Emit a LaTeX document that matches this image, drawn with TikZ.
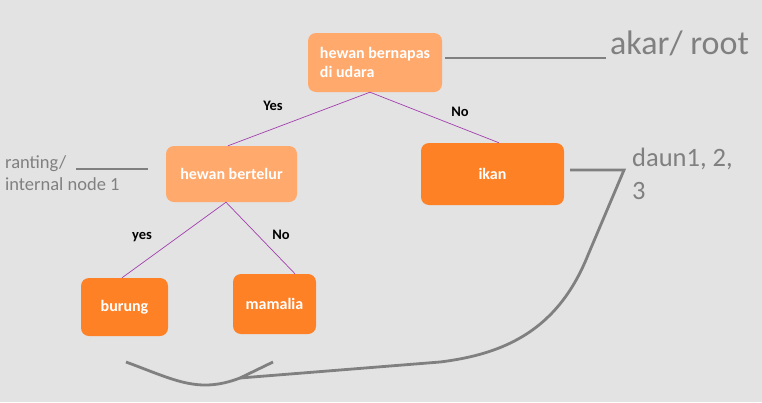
\documentclass[tikz,border=0pt]{standalone}
\usepackage{fontspec}
\setmainfont{Carlito}
\usetikzlibrary{positioning}
\definecolor{bggray}{HTML}{E3E3E3}
\definecolor{softorange}{HTML}{FFA96D}
\definecolor{deeporange}{HTML}{FF8126}
\definecolor{notegray}{HTML}{808080}
\definecolor{edgepurple}{HTML}{A33FAE}

\begin{document}
\begin{tikzpicture}[x=1pt, y=-1pt]
  \tikzstyle{decision} = [rectangle, rounded corners=8pt, fill=softorange, text=white, align=left, inner sep=0pt, font=\bfseries\fontsize{16}{19}\selectfont]
  \tikzstyle{leaf} = [decision, fill=deeporange]
  \tikzstyle{branch} = [edgepurple, line width=0.7pt]
  \tikzstyle{answer} = [font=\bfseries\fontsize{14.5}{16}\selectfont]
  \tikzstyle{note} = [text=notegray, align=left, inner sep=0pt]
  \tikzstyle{pointer} = [notegray, line width=2.8pt]

  \fill[bggray] (0,0) rectangle (762,402);

  % tree
  \node[decision, minimum width=134pt, minimum height=59pt] (root) at (375,62.5) {hewan bernapas\\di udara};
  \node[decision, minimum width=131pt, minimum height=56pt] (bertelur) at (231.5,174) {hewan bertelur};
  \node[leaf, minimum width=143pt, minimum height=62pt] (ikan) at (492.5,174) {ikan};
  \node[leaf, minimum width=87pt, minimum height=58pt] (burung) at (124.5,307) {burung};
  \node[leaf, minimum width=83pt, minimum height=60pt] (mamalia) at (274.5,304) {mamalia};

  \draw[branch] ([xshift=-5pt]root.south) -- ([xshift=-3.5pt]bertelur.north);
  \draw[branch] ([xshift=-5pt]root.south) -- ([xshift=6.5pt]ikan.north);
  \draw[branch] ([xshift=-5.5pt]bertelur.south) -- ([xshift=-2.5pt]burung.north);
  \draw[branch] ([xshift=-5.5pt]bertelur.south) -- ([xshift=20.5pt]mamalia.north);

  \node[answer] (yes1) at (273,106) {Yes};
  \node[answer] (no1) at (460,112) {No};
  \node[answer] (yes2) at (142,237) {yes};
  \node[answer] (no2) at (281,235) {No};

  % notes
  \node[note, anchor=west, font=\fontsize{34}{38}\selectfont] (akar) at (610,43) {akar/ root};
  \node[note, anchor=north west, font=\fontsize{18.5}{22}\selectfont] (ranting) at (5,155) {ranting/\\internal node 1};
  \node[note, anchor=north west, font=\fontsize{26.5}{33}\selectfont] (daun) at (632,148) {daun1, 2,\\3};

  \coordinate (akarend) at (606,58);
  \coordinate (rantingend) at (76,169);
  \coordinate (bend) at (624,170);
  \coordinate (meet) at (240,378);
  \draw[pointer] ([xshift=3pt,yshift=4.5pt]root.east) -- (akarend);
  \draw[pointer] (rantingend) -- ([xshift=-18pt,yshift=5pt]bertelur.west);
  \draw[pointer] ([xshift=6pt,yshift=4pt]ikan.east) -- (bend) -- (588,255)
    .. controls (558,330) and (505,354) .. (440,362) -- (meet);
  \draw[pointer] (126,362) .. controls (175,380) and (198,394) .. (meet) -- (273,362);
\end{tikzpicture}
\end{document}
